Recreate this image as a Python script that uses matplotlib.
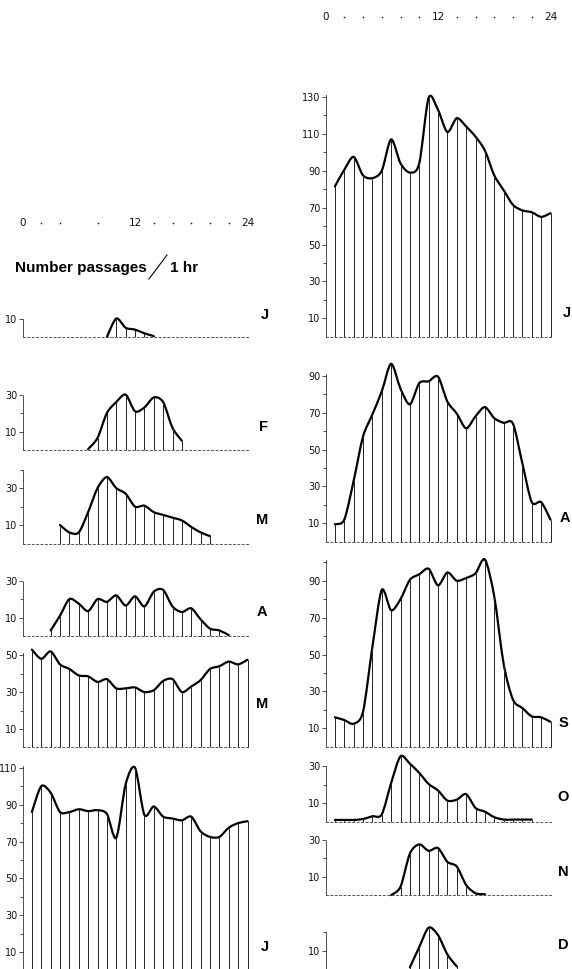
import numpy as np
import matplotlib
matplotlib.use("Agg")
import matplotlib.pyplot as plt
from matplotlib.path import Path
from matplotlib.patches import PathPatch
from matplotlib.lines import Line2D

# hourly passages per month (hour index -> count)
jan_hours = list(range(9, 15))
jan_vals = [0, 10, 5, 4, 2, 0.5]
feb_hours = list(range(7, 18))
feb_vals = [0.5, 6.5, 20, 26, 30, 21, 23, 28.5, 26, 12, 5]
mar_hours = list(range(4, 21))
mar_vals = [10, 6, 6, 17, 30, 36, 30, 27, 20, 20.5, 17, 15.5, 14, 12.5, 9, 6, 4]
apr_hours = list(range(3, 23))
apr_vals = [3, 11, 20, 17.5, 13.5, 20, 18.5, 22, 16.5, 21.5, 16, 24, 25, 16,
            13, 15, 9, 4, 3, 0.5]
may_hours = list(range(1, 25))
may_vals = [53, 48, 52, 45, 42.5, 39, 38.5, 35.5, 37, 32, 32, 32.5, 30, 31,
            36, 37, 30, 33, 36.5, 42.5, 44, 46.5, 45, 47.5]
jun_hours = list(range(1, 25))
jun_vals = [86, 100, 96.5, 86, 86, 87.5, 86.5, 87, 85, 72, 101, 110, 84.5, 89,
            83.5, 82.5, 81.5, 83.5, 75.5, 72.5, 72.5, 77.5, 80, 81]
jul_hours = list(range(1, 25))
jul_vals = [81.5, 90.5, 97.5, 87.5, 86, 90, 107, 94, 89, 94, 129.5, 123, 111,
            118.5, 114, 108.5, 101, 87.5, 79.5, 71.5, 68.5, 67.5, 65, 67]
aug_hours = list(range(1, 25))
aug_vals = [9.5, 12, 33, 57, 69, 81.5, 96.5, 83, 74.5, 86, 87, 89.5, 76, 69.5,
            61.5, 68, 73, 67, 64.5, 64, 42.5, 21.5, 21.5, 12]
sep_hours = list(range(1, 25))
sep_vals = [16, 14.5, 12.5, 19, 54, 85, 74, 80, 90.5, 93.5, 96.5, 87.5, 94.5,
            90, 91.5, 94, 101.5, 81.5, 45, 25.5, 21, 16.5, 16, 13.5]
oct_hours = list(range(1, 23))
oct_vals = [1, 1, 1, 1.5, 3, 4, 21, 35.5, 31.5, 26.5, 20.5, 17, 11.5, 12, 15,
            7.5, 5.5, 2.5, 1.2, 1.2, 1.2, 1.2]
nov_hours = list(range(7, 18))
nov_vals = [0, 4.5, 22.5, 27.5, 24, 25.5, 18, 15.5, 5.5, 1, 0.5]
dec_hours = list(range(9, 15))
dec_vals = [1, 12, 22.5, 18.5, 8, 1.5]

month_letters = ["J", "F", "M", "A", "M", "J", "J", "A", "S", "O", "N", "D"]

W, H = 572, 969
S = 1.845          # pixels per passage
HR = 9.375         # pixels per hour
XMAX = 24.3

fig = plt.figure(figsize=(W / 100, H / 100), dpi=100)
fig.patch.set_facecolor("white")


def smooth_path(xs, ys, k=7.0):
    # Catmull-Rom style curve through the points, drawn as cubic Beziers
    p = np.column_stack([xs, ys]).astype(float)
    ext = np.vstack([p[0], p, p[-1]])
    verts = [p[0]]
    codes = [Path.MOVETO]
    for i in range(len(p) - 1):
        a, b, c, d = ext[i], ext[i + 1], ext[i + 2], ext[i + 3]
        verts += [b + (c - a) / k, c - (d - b) / k, c]
        codes += [Path.CURVE4] * 3
    return Path(verts, codes)


def panel(col, base_px, ytop, hours, vals, letter, lx, ly):
    x0 = 22.5 if col == 0 else 325.5
    ax = fig.add_axes([x0 / W, (H - base_px) / H, XMAX * HR / W, ytop * S / H])
    ax.set_xlim(0, XMAX)
    ax.set_ylim(0, ytop)
    ax.patch.set_visible(False)
    for s in ("top", "right"):
        ax.spines[s].set_visible(False)
    ax.spines["left"].set_linewidth(0.6)
    ax.spines["left"].set_linestyle((0, (5, 1)))
    ax.spines["left"].set_color("#333333")
    ax.spines["bottom"].set_linewidth(0.7)
    ax.spines["bottom"].set_linestyle((0, (2, 2.5)))
    ax.spines["bottom"].set_color("#555555")
    ax.set_xticks([])
    ax.set_yticks(np.arange(10, ytop + 0.5, 20))
    ax.set_yticks(np.arange(20, ytop + 0.5, 20), minor=True)
    ax.tick_params(axis="y", which="major", length=3, width=0.6, pad=0.8,
                   labelsize=7, color="#333333", labelcolor="#111111")
    ax.tick_params(axis="y", which="minor", length=2.5, width=0.6,
                   color="#333333")

    ax.vlines(hours, 0, vals, color="#222222", lw=0.7, clip_on=False)
    ax.add_patch(PathPatch(smooth_path(hours, vals), fill=False,
                           edgecolor="black", lw=1.6, clip_on=False,
                           joinstyle="round", capstyle="round"))
    fig.text(lx / W, 1 - ly / H, letter, fontsize=10.5, fontweight="bold",
             family=["Liberation Sans", "DejaVu Sans"],
             ha="center", va="center")
    return ax


# left column: Jan-Jun
panel(0, 337.0, 10, jan_hours, jan_vals, month_letters[0], 265, 315)
panel(0, 450.0, 30, feb_hours, feb_vals, month_letters[1], 263, 427)
panel(0, 543.5, 40, mar_hours, mar_vals, month_letters[2], 262, 520)
panel(0, 636.0, 30, apr_hours, apr_vals, month_letters[3], 262, 612)
panel(0, 747.4, 51, may_hours, may_vals, month_letters[4], 262, 704)
panel(0, 970.7, 111, jun_hours, jun_vals, month_letters[5], 265, 947)
# right column: Jul-Dec
panel(1, 336.8, 131, jul_hours, jul_vals, month_letters[6], 567, 313)
panel(1, 541.8, 91, aug_hours, aug_vals, month_letters[7], 565, 518)
panel(1, 746.8, 101, sep_hours, sep_vals, month_letters[8], 563, 723)
panel(1, 821.8, 30, oct_hours, oct_vals, month_letters[9], 563, 797)
panel(1, 895.1, 30, nov_hours, nov_vals, month_letters[10], 563, 872)
panel(1, 969.2, 20, dec_hours, dec_vals, month_letters[11], 563, 945)

# hour scales above each column
hour_labels = [0, 12, 24]
left_dots = [2, 4, 8, 14, 16, 18, 20, 22]
right_dots = [2, 4, 6, 8, 10, 14, 16, 18, 20, 22]
for x0, ypx, dots in [(22.5, 223, left_dots), (325.5, 17, right_dots)]:
    hx = fig.add_axes([x0 / W, 1 - (ypx + 6) / H, XMAX * HR / W, 12 / H])
    hx.set_xlim(0, XMAX)
    hx.set_ylim(-1, 1)
    hx.axis("off")
    hx.scatter(dots, np.zeros(len(dots)), s=1.5, color="#222222", lw=0)
    for h in hour_labels:
        hx.text(h, 0, str(h), fontsize=7.5, ha="center", va="center",
                color="#111111")

# axis caption
fig.text(15 / W, 1 - 272 / H, "Number passages", fontsize=11,
         fontweight="bold", family=["Liberation Sans", "DejaVu Sans"],
         ha="left", va="baseline")
fig.add_artist(Line2D([149 / W, 167 / W], [1 - 279 / H, 1 - 255 / H],
                      color="black", lw=0.8))
fig.text(170 / W, 1 - 272 / H, "1 hr", fontsize=11, fontweight="bold",
         family=["Liberation Sans", "DejaVu Sans"], ha="left", va="baseline")

fig.savefig("out.png", dpi=100)
